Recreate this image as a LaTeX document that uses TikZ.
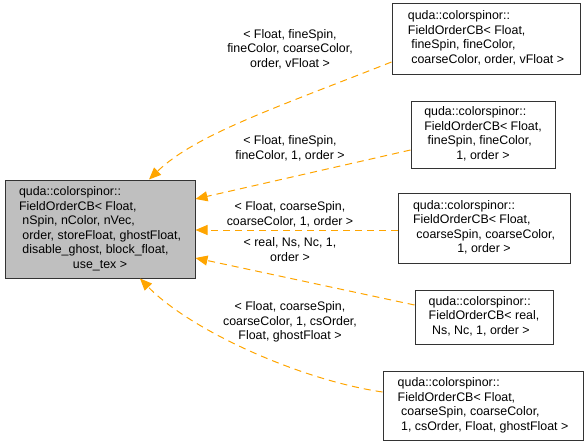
\documentclass[tikz,border=0pt]{standalone}
\usepackage{fontspec}
\setmainfont{Liberation Sans}
\usetikzlibrary{arrows.meta}
\definecolor{gvorange}{HTML}{FFA500}
\definecolor{gvgray}{HTML}{BFBFBF}
\newcommand\centrow[1]{\multicolumn{1}{@{}c@{}}{#1}}
\begin{document}
\begin{tikzpicture}[x=1pt,y=-1pt,
  txt/.style={font=\fontsize{12.4}{14.6}\selectfont},
  box/.style={draw=black!80, line width=1pt, fill=white, inner sep=0pt, txt},
  mainbox/.style={box, fill=gvgray},
  lbl/.style={txt, align=center, inner sep=0pt},
  edge/.style={draw=gvorange, line width=1pt, dash pattern=on 7pt off 5pt,
    -{Triangle[length=12pt,width=10pt,fill=gvorange]}}
]
\useasboundingbox (0,0) rectangle (588,447);
\node[mainbox, minimum width=190pt, minimum height=98pt] (main) at (100,229)
 {\begin{tabular}{@{}l@{}}quda::colorspinor::\\FieldOrderCB< Float,\\\ nSpin, nColor, nVec,\\\ order, storeFloat, ghostFloat,\\\ disable\_ghost, block\_float,\\\centrow{use\_tex >}\end{tabular}};
\node[box, minimum width=188pt, minimum height=71pt] (b1) at (486,38.5)
 {\begin{tabular}{@{}l@{}}quda::colorspinor::\\FieldOrderCB< Float,\\\ fineSpin, fineColor,\\\ coarseColor, order, vFloat >\end{tabular}};
\node[box, minimum width=144pt, minimum height=67pt] (b2) at (483,134.5)
 {\begin{tabular}{@{}l@{}}quda::colorspinor::\\FieldOrderCB< Float,\\\ fineSpin, fineColor,\\\centrow{1, order >}\end{tabular}};
\node[box, minimum width=172pt, minimum height=70pt] (b3) at (484,228)
 {\begin{tabular}{@{}l@{}}quda::colorspinor::\\FieldOrderCB< Float,\\\ coarseSpin, coarseColor,\\\centrow{1, order >}\end{tabular}};
\node[box, minimum width=138pt, minimum height=54pt] (b4) at (484,317)
 {\begin{tabular}{@{}l@{}}quda::colorspinor::\\FieldOrderCB< real,\\\ Ns, Nc, 1, order >\end{tabular}};
\node[box, minimum width=200pt, minimum height=69pt] (b5) at (483,405.5)
 {\begin{tabular}{@{}l@{}}quda::colorspinor::\\FieldOrderCB< Float,\\\ coarseSpin, coarseColor,\\\ 1, csOrder, Float, ghostFloat >\end{tabular}};
% edges
\draw[edge] ([yshift=-23.5pt]b1.west) .. controls (275,108) and (195,135) .. ([xshift=49pt]main.north);
\draw[edge] ([yshift=-15.5pt]b2.west) -- ([yshift=30pt]main.east);
\draw[edge] ([yshift=-2pt]b3.west) -- ([yshift=-1pt]main.east);
\draw[edge] ([yshift=12pt]b4.west) -- ([yshift=-29pt]main.east);
\draw[edge] ([yshift=13.5pt]b5.west) .. controls (300,380) and (190,330) .. ([xshift=40pt]main.south);
% labels
\node[lbl] (l1) at (290,49) {< Float, fineSpin,\\fineColor, coarseColor,\\order, vFloat >};
\node[lbl] (l2) at (290,148.5) {< Float, fineSpin,\\fineColor, 1, order >};
\node[lbl] (l3) at (290,214.5) {< Float, coarseSpin,\\coarseColor, 1, order >};
\node[lbl] (l4) at (290,249.5) {< real, Ns, Nc, 1,\\order >};
\node[lbl] (l5) at (290,322) {< Float, coarseSpin,\\coarseColor, 1, csOrder,\\Float, ghostFloat >};
\end{tikzpicture}
\end{document}
